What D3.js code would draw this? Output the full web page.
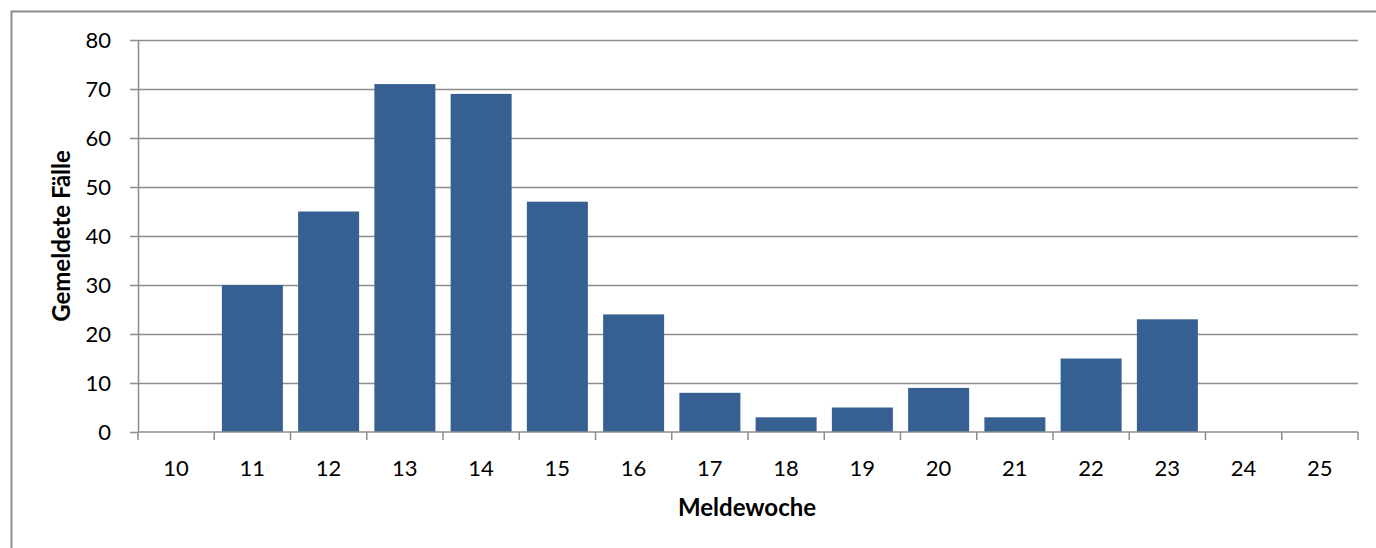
<!DOCTYPE html>
<html>
<head>
<meta charset="utf-8">
<script src="https://cdn.jsdelivr.net/npm/d3@7"></script>
<style>
  html, body { margin: 0; padding: 0; background: #fff; }
  svg { display: block; }
  text { font-family: Lato, "Open Sans", sans-serif; fill: #000; }
</style>
</head>
<body>
<svg id="chart" width="1376" height="548"></svg>
<script>
// Wöchentlich gemeldete Fälle
const weeks = [10, 11, 12, 13, 14, 15, 16, 17, 18, 19, 20, 21, 22, 23, 24, 25];
const cases = [0, 30, 45, 71, 69, 47, 24, 8, 3, 5, 9, 3, 15, 23, 0, 0];
const yTicks = [0, 10, 20, 30, 40, 50, 60, 70, 80];
const xTitle = "Meldewoche";
const yTitle = "Gemeldete Fälle";

const svg = d3.select("#chart");
const W = 1376, H = 548;
const m = { left: 138, right: 18, top: 40, bottom: 116 };
const tickFont = "22px";
const titleFont = "24px";

// outer chart frame
svg.append("rect")
  .attr("x", 11.5).attr("y", 11.5)
  .attr("width", W + 20).attr("height", H + 20)
  .attr("fill", "none").attr("stroke", "#8c8c8c").attr("stroke-width", 2);

const x = d3.scaleBand()
  .domain(weeks.map(String))
  .range([m.left, W - m.right])
  .paddingInner(0.2).paddingOuter(0.1);

const y = d3.scaleLinear().domain([0, 80]).range([H - m.bottom, m.top]);

// horizontal gridlines
svg.append("g").selectAll("line").data(yTicks.filter(d => d > 0)).join("line")
  .attr("x1", m.left).attr("x2", W - m.right)
  .attr("y1", d => Math.round(y(d)) + 0.5).attr("y2", d => Math.round(y(d)) + 0.5)
  .attr("stroke", "#8c8c8c").attr("stroke-width", 1.5);

// bars
svg.append("g").selectAll("rect").data(weeks.map((w, i) => ({ w, v: cases[i] })).filter(d => d.v > 0))
  .join("rect")
  .attr("x", d => x(String(d.w)))
  .attr("width", x.bandwidth())
  .attr("y", d => y(d.v))
  .attr("height", d => y(0) - y(d.v))
  .attr("fill", "#376092");

// y axis
const yAxis = svg.append("g")
  .attr("transform", `translate(${m.left},0)`)
  .call(d3.axisLeft(y).tickValues(yTicks).tickSize(8).tickPadding(19).tickSizeOuter(0));
yAxis.select(".domain").attr("stroke", "#8c8c8c").attr("stroke-width", 1.5);
yAxis.selectAll(".tick line").attr("stroke", "#8c8c8c").attr("stroke-width", 1.5);
yAxis.selectAll(".tick text").style("font-size", tickFont).style("font-family", "Lato, sans-serif");

// x axis: ticks sit on the category boundaries
const bounds = weeks.map((w, i) => m.left + i * (W - m.right - m.left) / weeks.length);
bounds.push(W - m.right);
const xg = svg.append("g");
xg.append("line")
  .attr("x1", m.left).attr("x2", W - m.right)
  .attr("y1", y(0)).attr("y2", y(0))
  .attr("stroke", "#8c8c8c").attr("stroke-width", 1.5);
xg.selectAll("line.tk").data(bounds).join("line").attr("class", "tk")
  .attr("x1", d => d).attr("x2", d => d)
  .attr("y1", y(0)).attr("y2", y(0) + 8)
  .attr("stroke", "#8c8c8c").attr("stroke-width", 1.5);
xg.selectAll("text").data(weeks).join("text")
  .attr("x", d => x(String(d)) + x.bandwidth() / 2)
  .attr("y", y(0) + 44)
  .attr("text-anchor", "middle")
  .style("font-size", tickFont)
  .text(d => d);

// axis titles
svg.append("text")
  .attr("x", (m.left + W - m.right) / 2 - 1).attr("y", 516)
  .attr("text-anchor", "middle")
  .style("font-size", titleFont).style("font-weight", "bold")
  .text(xTitle);

svg.append("text")
  .attr("transform", `translate(70,${(y(0) + y(80)) / 2}) rotate(-90)`)
  .attr("text-anchor", "middle")
  .style("font-size", titleFont).style("font-weight", "bold")
  .text(yTitle);
</script>
</body>
</html>
